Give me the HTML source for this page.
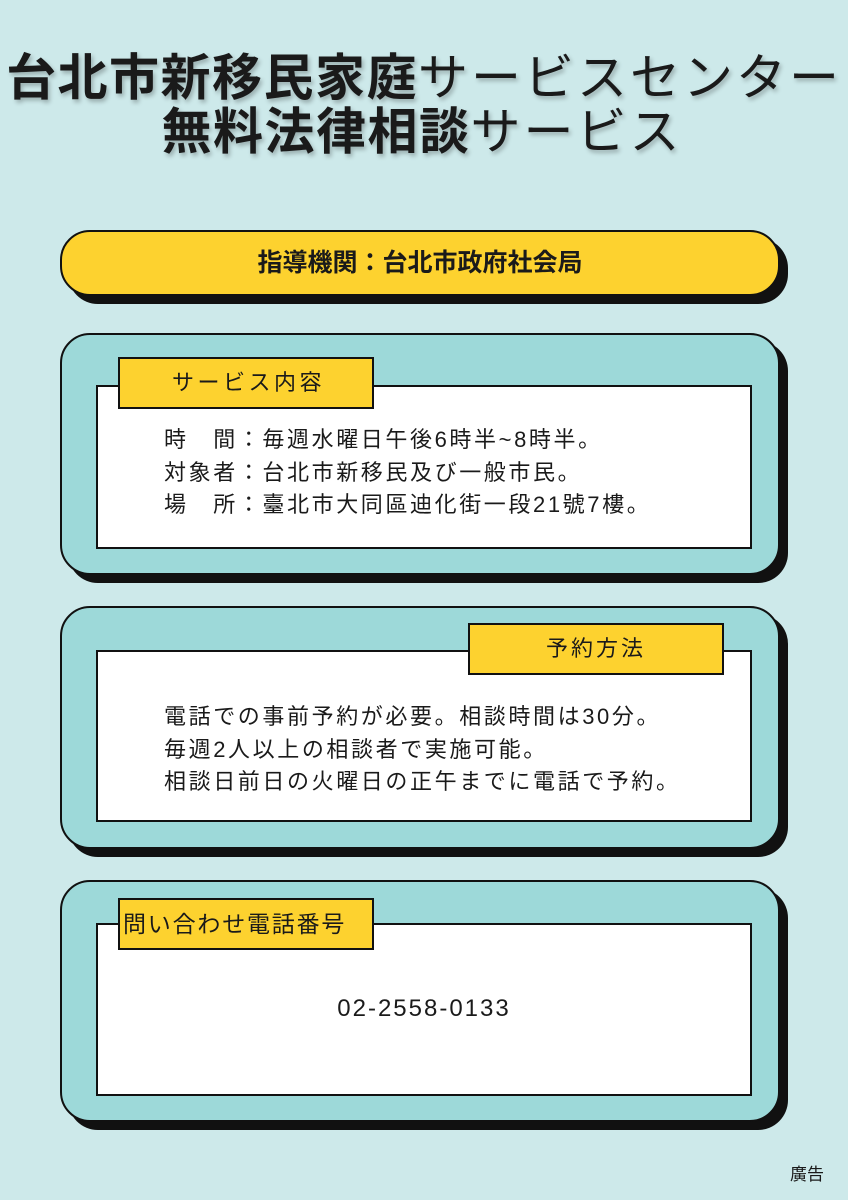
<!DOCTYPE html>
<html><head><meta charset="utf-8"><style>
body{margin:0;width:848px;height:1200px;background:#cde9ea;position:relative;overflow:hidden;font-family:"Liberation Sans","Noto Sans CJK JP",sans-serif;color:#1a1a1a}
.a{position:absolute}
.t{left:0;width:848px;text-align:center;font-size:50px;line-height:56px;white-space:nowrap;letter-spacing:1.5px;text-shadow:2px 3px 4px rgba(0,0,0,.25)}
.t b{font-weight:700}
.t span{font-weight:400;letter-spacing:3px}
.box{position:absolute;left:60px;width:716px;background:#9dd9d9;border:2px solid #111;border-radius:30px;box-shadow:8px 8px 0 #111}
.w{position:absolute;left:96px;width:652px;background:#fff;border:2px solid #111}
.lab{position:absolute;width:252px;height:48px;background:#fdd22f;border:2px solid #111;font-size:22px;line-height:48px}
.tx{position:absolute;left:164px;font-size:22px;line-height:32.5px;white-space:nowrap;letter-spacing:2.6px}
</style></head><body>
<div class="a t" style="top:50px"><b>台北市新移民家庭</b><span>サービスセンター</span></div>
<div class="a t" style="top:104px;left:-2px"><b>無料法律相談</b><span>サービス</span></div>
<div class="a" style="left:60px;top:230px;width:716px;height:62px;background:#fdd22f;border:2px solid #111;border-radius:30px;box-shadow:8px 8px 0 #111;text-align:center;font-size:25px;font-weight:700;line-height:62px">指導機関：台北市政府社会局</div>

<div class="box" style="top:333px;height:238px"></div>
<div class="w" style="top:385px;height:160px"></div>
<div class="lab" style="left:118px;top:357px;text-align:left"><span style="margin-left:52px;letter-spacing:3.5px">サービス内容</span></div>
<div class="tx" style="top:424px">時　間：毎週水曜日午後6時半~8時半。<br>対象者：台北市新移民及び一般市民。<br>場　所：臺北市大同區迪化街一段21號7樓。</div>

<div class="box" style="top:606px;height:239px"></div>
<div class="w" style="top:650px;height:168px"></div>
<div class="lab" style="left:468px;top:623px;text-align:center;letter-spacing:3px">予約方法</div>
<div class="tx" style="top:701px">電話での事前予約が必要。相談時間は30分。<br>毎週2人以上の相談者で実施可能。<br>相談日前日の火曜日の正午までに電話で予約。</div>

<div class="box" style="top:880px;height:238px"></div>
<div class="w" style="top:923px;height:169px"></div>
<div class="lab" style="left:118px;top:898px;text-align:left;font-size:23px;letter-spacing:1.8px"><span style="margin-left:3px">問い合わせ電話番号</span></div>
<div class="a" style="left:96px;width:656px;top:994px;text-align:center;font-size:24px;letter-spacing:2px;line-height:30px">02-2558-0133</div>

<div class="a" style="left:790px;top:1160px;font-size:17px">廣告</div>
</body></html>
